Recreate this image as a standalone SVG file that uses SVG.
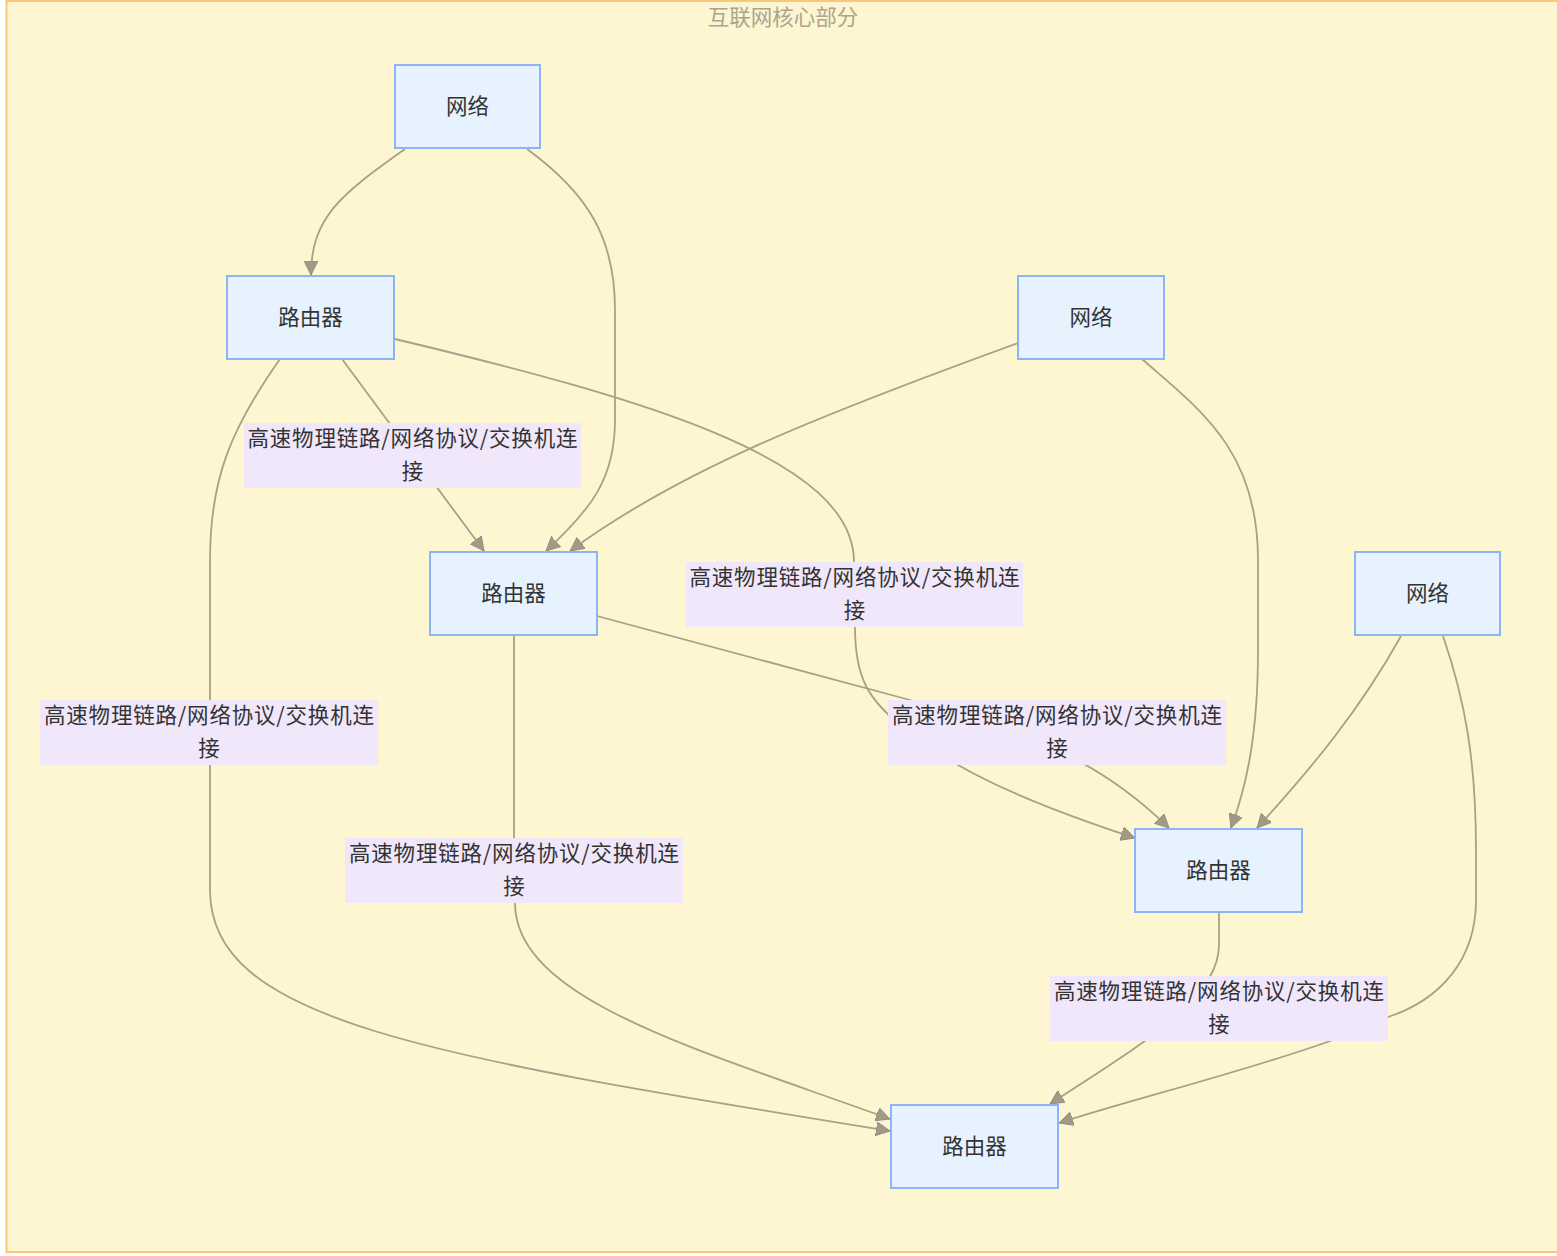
<svg xmlns="http://www.w3.org/2000/svg" width="1557" height="1256" viewBox="0 0 1557 1256">
<style>
text{font-family:"Noto Sans CJK SC","Noto Sans",sans-serif;font-size:21.5px;fill:#333;text-anchor:middle}
.title{fill:#aba58f}
.node rect{fill:#e6f3fe;stroke:#8fb4f5;stroke-width:2}
.lbl rect{fill:#f1e7fb;stroke:none}
.edges path{fill:none;stroke:#a8a189;stroke-width:1.8}
</style>
<defs>
<marker id="arr" viewBox="0 0 10 10" refX="10" refY="5" markerWidth="14" markerHeight="14" markerUnits="userSpaceOnUse" orient="auto">
<path d="M0,0 L10,5 L0,10 z" fill="#a09a86" stroke="#8f8a78" stroke-width="0.6"/>
</marker>
</defs>
<rect width="1557" height="1256" fill="#ffffff"/>
<g id="cluster">
<rect x="6.5" y="1" width="1556" height="1251" fill="#fef5d1" stroke="#f8c77a" stroke-width="2"/>
<text class="title" x="783" y="25">互联网核心部分</text>
</g>
<g class="edges" id="connectors">
<path d="M405,149 C345,192 311,215 311,275" marker-end="url(#arr)"/>
<path d="M527,149 C590,195 615,240 615,310 L615,420 C615,480 590,510 546,551" marker-end="url(#arr)"/>
<path d="M342,359 L484,551" marker-end="url(#arr)"/>
<path d="M395,339 C650,400 854,460 854,562 L855,627 C855,680 870,700 900,725 C915,745 930,752 958,765 C1010,795 1080,820 1135,838" marker-end="url(#arr)"/>
<path d="M280,359 C230,430 210,480 210,560 L210,890 C210,1020 420,1055 890,1131" marker-end="url(#arr)"/>
<path d="M1018,343 C820,415 680,470 570,551" marker-end="url(#arr)"/>
<path d="M1142,359 C1200,410 1258,450 1258,560 L1258,650 C1258,740 1245,790 1231,828" marker-end="url(#arr)"/>
<path d="M597,616 L910,700 L1060,752 C1100,770 1135,795 1169,828" marker-end="url(#arr)"/>
<path d="M514,636 L514,838 L515,903 C515,1000 700,1050 890,1119" marker-end="url(#arr)"/>
<path d="M1401,636 C1360,710 1310,770 1257,828" marker-end="url(#arr)"/>
<path d="M1443,636 C1465,700 1476,760 1476,850 L1476,900 C1476,960 1440,1000 1388,1017 L1330,1041 C1250,1070 1130,1100 1059,1123" marker-end="url(#arr)"/>
<path d="M1219,913 L1219,945 C1219,1000 1140,1045 1050,1104" marker-end="url(#arr)"/>
</g>
<g id="labels">
<g class="lbl" id="label1"><rect x="244" y="423" width="337" height="65"/><text x="412.5" y="446" textLength="330" lengthAdjust="spacing">高速物理链路/网络协议/交换机连</text><text x="412.5" y="479">接</text></g>
<g class="lbl" id="label2"><rect x="686" y="562" width="337" height="65"/><text x="854.5" y="585" textLength="330" lengthAdjust="spacing">高速物理链路/网络协议/交换机连</text><text x="854.5" y="618">接</text></g>
<g class="lbl" id="label3"><rect x="40" y="700" width="338" height="65"/><text x="209" y="723" textLength="330" lengthAdjust="spacing">高速物理链路/网络协议/交换机连</text><text x="209" y="756">接</text></g>
<g class="lbl" id="label4"><rect x="888" y="700" width="338" height="65"/><text x="1057" y="723" textLength="330" lengthAdjust="spacing">高速物理链路/网络协议/交换机连</text><text x="1057" y="756">接</text></g>
<g class="lbl" id="label5"><rect x="345" y="838" width="338" height="65"/><text x="514" y="861" textLength="330" lengthAdjust="spacing">高速物理链路/网络协议/交换机连</text><text x="514" y="894">接</text></g>
<g class="lbl" id="label6"><rect x="1050" y="976" width="338" height="65"/><text x="1219" y="999" textLength="330" lengthAdjust="spacing">高速物理链路/网络协议/交换机连</text><text x="1219" y="1032">接</text></g>
</g>
<g class="node" id="net1"><rect x="395" y="65" width="145" height="83"/><text x="467.5" y="114">网络</text></g>
<g class="node" id="routerA"><rect x="227" y="276" width="167" height="83"/><text x="310.5" y="325">路由器</text></g>
<g class="node" id="net2"><rect x="1018" y="276" width="146" height="83"/><text x="1091" y="325">网络</text></g>
<g class="node" id="routerB"><rect x="430" y="552" width="167" height="83"/><text x="513.5" y="601">路由器</text></g>
<g class="node" id="net3"><rect x="1355" y="552" width="145" height="83"/><text x="1427.5" y="601">网络</text></g>
<g class="node" id="routerC"><rect x="1135" y="829" width="167" height="83"/><text x="1218.5" y="878">路由器</text></g>
<g class="node" id="routerD"><rect x="891" y="1105" width="167" height="83"/><text x="974.5" y="1154">路由器</text></g>
</svg>
